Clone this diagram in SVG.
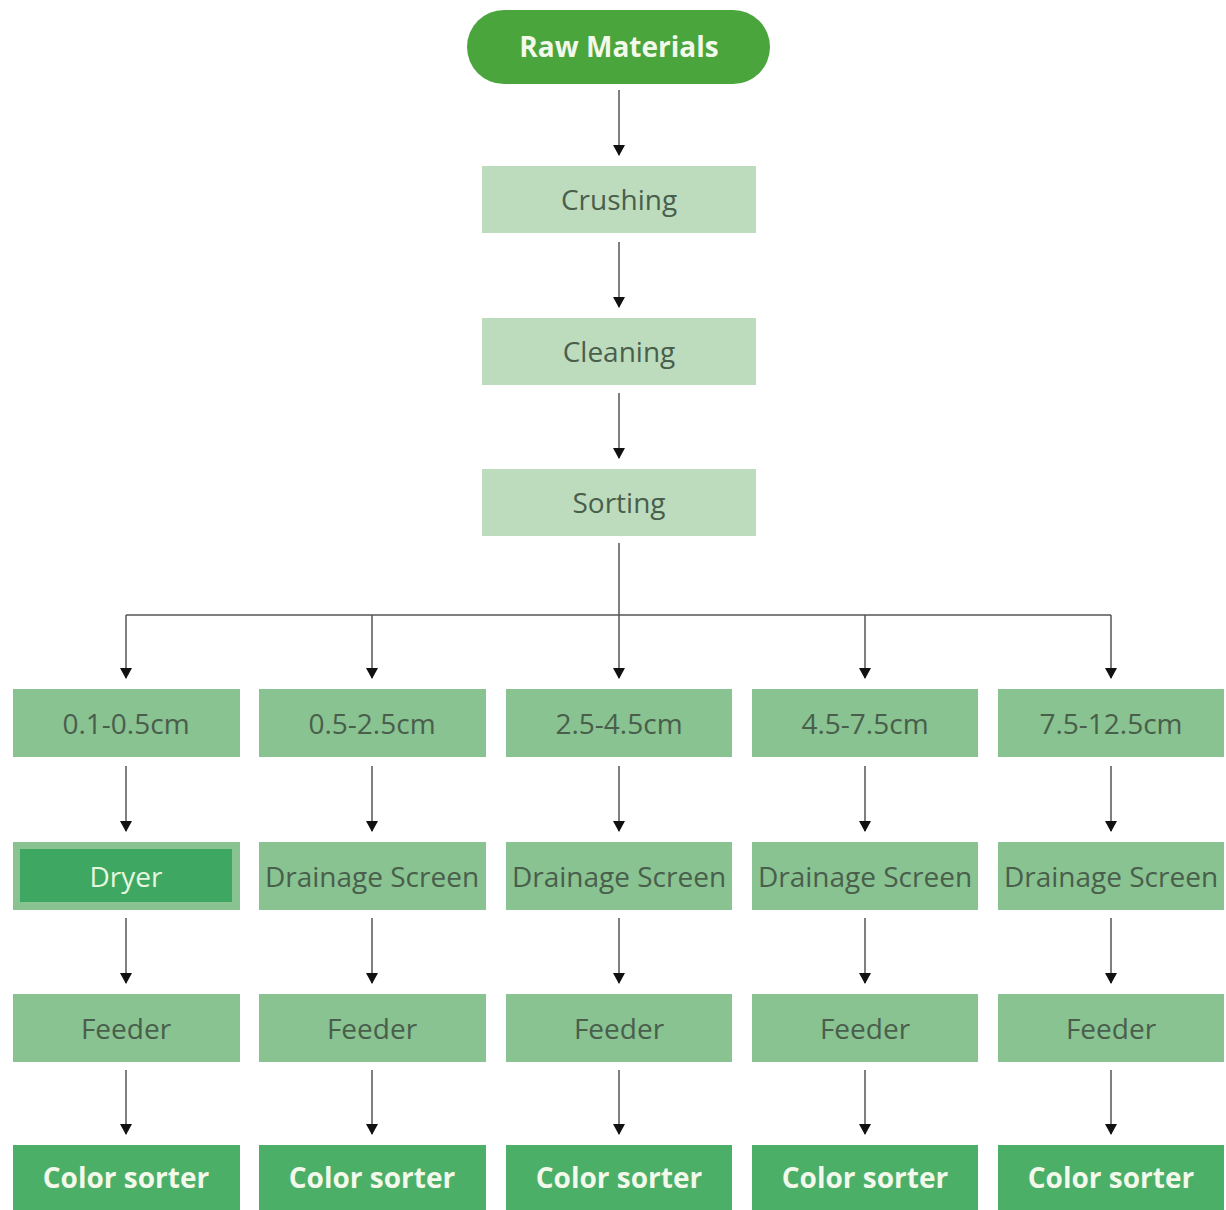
<svg xmlns="http://www.w3.org/2000/svg" width="1226" height="1210" viewBox="0 0 1226 1210">
<defs>
<marker id="ah" markerWidth="12" markerHeight="12" refX="10" refY="6" orient="auto" markerUnits="userSpaceOnUse" viewBox="0 0 12 12">
<path d="M0,0 L11,6 L0,12 Z" fill="#111"/>
</marker>
<style>
.ln{stroke:#555;stroke-width:1.5;fill:none}
.ar{stroke:#555;stroke-width:1.5;fill:none;marker-end:url(#ah)}
.lt{fill:#bddcbd}
.md{fill:#88c391}
.dk{fill:#4caf68}
.t{font-family:"Open Sans","Noto Sans",sans-serif;font-size:28px;text-anchor:middle;dominant-baseline:central;fill:#4a5e4c}
.tb{font-family:"Open Sans","Noto Sans",sans-serif;font-size:28px;font-weight:bold;text-anchor:middle;dominant-baseline:central;fill:#f2f8ea}
</style>
</defs>
<rect width="1226" height="1210" fill="#ffffff"/>
<g id="connectors">
<line class="ar" x1="619" y1="90" x2="619" y2="155"/>
<line class="ar" x1="619" y1="242" x2="619" y2="307"/>
<line class="ar" x1="619" y1="393" x2="619" y2="458"/>
<line class="ln" x1="619" y1="543" x2="619" y2="615"/>
<line class="ln" x1="126" y1="615" x2="1111" y2="615"/>
<line class="ar" x1="126" y1="615" x2="126" y2="678"/>
<line class="ar" x1="372" y1="615" x2="372" y2="678"/>
<line class="ar" x1="619" y1="615" x2="619" y2="678"/>
<line class="ar" x1="865" y1="615" x2="865" y2="678"/>
<line class="ar" x1="1111" y1="615" x2="1111" y2="678"/>
<g id="c-row2">
<line class="ar" x1="126" y1="766" x2="126" y2="831"/>
<line class="ar" x1="372" y1="766" x2="372" y2="831"/>
<line class="ar" x1="619" y1="766" x2="619" y2="831"/>
<line class="ar" x1="865" y1="766" x2="865" y2="831"/>
<line class="ar" x1="1111" y1="766" x2="1111" y2="831"/>
</g>
<g id="c-row3">
<line class="ar" x1="126" y1="918" x2="126" y2="983"/>
<line class="ar" x1="372" y1="918" x2="372" y2="983"/>
<line class="ar" x1="619" y1="918" x2="619" y2="983"/>
<line class="ar" x1="865" y1="918" x2="865" y2="983"/>
<line class="ar" x1="1111" y1="918" x2="1111" y2="983"/>
</g>
<g id="c-row4">
<line class="ar" x1="126" y1="1070" x2="126" y2="1134"/>
<line class="ar" x1="372" y1="1070" x2="372" y2="1134"/>
<line class="ar" x1="619" y1="1070" x2="619" y2="1134"/>
<line class="ar" x1="865" y1="1070" x2="865" y2="1134"/>
<line class="ar" x1="1111" y1="1070" x2="1111" y2="1134"/>
</g>
</g>
<g id="raw"><rect x="467" y="10" width="303" height="74" rx="37" fill="#4aa53c"/><text class="tb" x="619" y="46" fill="#eaf6dc">Raw Materials</text></g>
<g id="crushing"><rect class="lt" x="482" y="166" width="274" height="67"/><text class="t" x="619" y="199">Crushing</text></g>
<g id="cleaning"><rect class="lt" x="482" y="318" width="274" height="67"/><text class="t" x="619" y="351">Cleaning</text></g>
<g id="sorting"><rect class="lt" x="482" y="469" width="274" height="67"/><text class="t" x="619" y="502">Sorting</text></g>
<g id="s1"><rect class="md" x="13" y="689" width="227" height="68"/><text class="t" x="126" y="723">0.1-0.5cm</text></g>
<g id="s2"><rect class="md" x="259" y="689" width="227" height="68"/><text class="t" x="372" y="723">0.5-2.5cm</text></g>
<g id="s3"><rect class="md" x="506" y="689" width="226" height="68"/><text class="t" x="619" y="723">2.5-4.5cm</text></g>
<g id="s4"><rect class="md" x="752" y="689" width="226" height="68"/><text class="t" x="865" y="723">4.5-7.5cm</text></g>
<g id="s5"><rect class="md" x="998" y="689" width="226" height="68"/><text class="t" x="1111" y="723">7.5-12.5cm</text></g>
<g id="dryer"><rect class="md" x="13" y="842" width="227" height="68"/><rect x="20" y="849" width="212" height="53" fill="#3ea862"/><text class="t" x="126" y="876" style="fill:#e6f7df">Dryer</text></g>
<g id="d2"><rect class="md" x="259" y="842" width="227" height="68"/><text class="t" x="372" y="876">Drainage Screen</text></g>
<g id="d3"><rect class="md" x="506" y="842" width="226" height="68"/><text class="t" x="619" y="876">Drainage Screen</text></g>
<g id="d4"><rect class="md" x="752" y="842" width="226" height="68"/><text class="t" x="865" y="876">Drainage Screen</text></g>
<g id="d5"><rect class="md" x="998" y="842" width="226" height="68"/><text class="t" x="1111" y="876">Drainage Screen</text></g>
<g id="f1"><rect class="md" x="13" y="994" width="227" height="68"/><text class="t" x="126" y="1028">Feeder</text></g>
<g id="f2"><rect class="md" x="259" y="994" width="227" height="68"/><text class="t" x="372" y="1028">Feeder</text></g>
<g id="f3"><rect class="md" x="506" y="994" width="226" height="68"/><text class="t" x="619" y="1028">Feeder</text></g>
<g id="f4"><rect class="md" x="752" y="994" width="226" height="68"/><text class="t" x="865" y="1028">Feeder</text></g>
<g id="f5"><rect class="md" x="998" y="994" width="226" height="68"/><text class="t" x="1111" y="1028">Feeder</text></g>
<g id="c1"><rect class="dk" x="13" y="1145" width="227" height="70"/><text class="tb" x="126" y="1177">Color sorter</text></g>
<g id="c2"><rect class="dk" x="259" y="1145" width="227" height="70"/><text class="tb" x="372" y="1177">Color sorter</text></g>
<g id="c3"><rect class="dk" x="506" y="1145" width="226" height="70"/><text class="tb" x="619" y="1177">Color sorter</text></g>
<g id="c4"><rect class="dk" x="752" y="1145" width="226" height="70"/><text class="tb" x="865" y="1177">Color sorter</text></g>
<g id="c5"><rect class="dk" x="998" y="1145" width="226" height="70"/><text class="tb" x="1111" y="1177">Color sorter</text></g>
</svg>
